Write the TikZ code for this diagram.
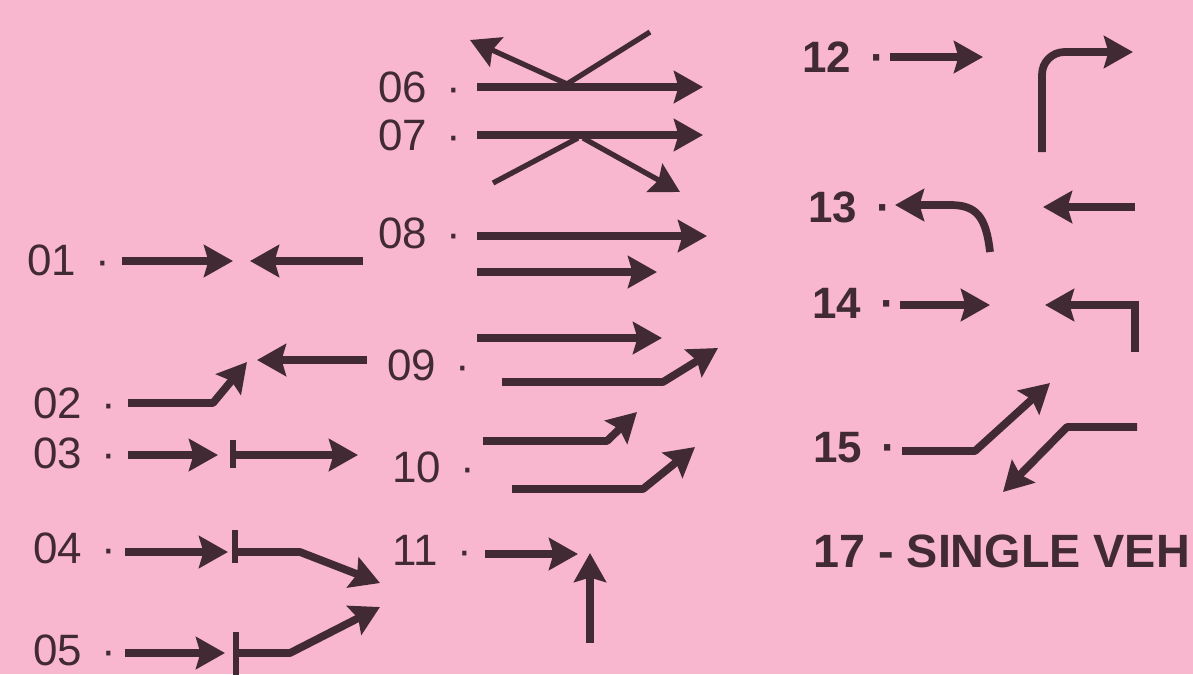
\documentclass[tikz,border=0pt]{standalone}
\usepackage{fontspec}
\setmainfont{Liberation Sans}
\usetikzlibrary{arrows.meta}
\definecolor{bgpink}{RGB}{248,183,206}
\definecolor{ink}{RGB}{66,42,52}
\tikzset{
  arr/.style={draw=ink,line width=4.4pt,line join=round,-{Stealth[length=0.58cm,width=0.64cm,inset=0.09cm]}},
  thinarr/.style={arr,line width=3pt},
  thinline/.style={draw=ink,line width=3pt},
  bar/.style={draw=ink,line width=3.2pt},
  lbl/.style={anchor=base west,inner sep=0pt,text=ink,font=\fontsize{25}{30}\selectfont},
  blbl/.style={lbl,font=\fontsize{25}{30}\selectfont\bfseries}
}

\begin{document}
\begin{tikzpicture}[x=0.02cm,y=-0.02cm]
\useasboundingbox (0,0) rectangle (1193,674);
\fill[bgpink] (0,0) rectangle (1193,674);
% left column
\node[lbl] (l01) at (27,275) {01\hspace{11pt}·};
\draw[arr] (122,261) -- (233,261);
\draw[arr] (363,261) -- (250,261);
\node[lbl] (l02) at (33,418) {02\hspace{11pt}·};
\draw[arr] (128,403) -- (213,403) -- (247,362);
\draw[arr] (367,360) -- (257,360);
\node[lbl] (l03) at (33,468) {03\hspace{11pt}·};
\draw[arr] (128,455) -- (218,455);
\draw[bar] (233,440) -- (233,468);
\draw[arr] (233,455) -- (358,455);
\node[lbl] (l04) at (33,563) {04\hspace{11pt}·};
\draw[arr] (125,552) -- (228,552);
\draw[bar] (235,530) -- (235,563);
\draw[arr] (235,552) -- (300,552) -- (380,583);
\node[lbl] (l05) at (33,665) {05\hspace{11pt}·};
\draw[arr] (125,653) -- (225,653);
\draw[bar] (236,632) -- (236,680);
\draw[arr] (236,653) -- (290,653) -- (380,607);
% middle column
\node[lbl] (l06) at (378,102) {06\hspace{11pt}·};
\draw[arr] (477,87) -- (703,87);
\draw[thinline] (650,32) -- (567,84);
\draw[thinarr] (567,84) -- (470,40);
\node[lbl] (l07) at (378,150) {07\hspace{11pt}·};
\draw[arr] (477,135) -- (703,135);
\draw[thinline] (493,183) -- (578,138);
\draw[thinarr] (583,138) -- (680,192);
\node[lbl] (l08) at (378,248) {08\hspace{11pt}·};
\draw[arr] (477,236) -- (707,236);
\draw[arr] (477,272) -- (657,272);
\node[lbl] (l09) at (387,380) {09\hspace{11pt}·};
\draw[arr] (477,338) -- (662,338);
\draw[arr] (502,382) -- (663,382) -- (718,348);
\node[lbl] (l10) at (392,482) {10\hspace{11pt}·};
\draw[arr] (483,441) -- (607,441) -- (637,412);
\draw[arr] (512,489) -- (643,489) -- (695,447);
\node[lbl] (l11) at (392,565) {11\hspace{11pt}·};
\draw[arr] (485,554) -- (578,554);
\draw[arr] (590,643) -- (590,553);
% right column
\node[blbl] (l12) at (802,72) {12\hspace{11pt}·};
\draw[arr] (890,57) -- (983,57);
\draw[arr,rounded corners=0.45cm] (1042,152) -- (1042,52) -- (1133,52);
\node[blbl] (l13) at (808,222) {13\hspace{11pt}·};
\draw[arr] (990,252) .. controls (986,216) and (976,205) .. (950,205) -- (895,205);
\draw[arr] (1135,207) -- (1043,207);
\node[blbl] (l14) at (812,318) {14\hspace{11pt}·};
\draw[arr] (900,305) -- (990,305);
\draw[arr,line join=miter] (1135,352) -- (1135,305) -- (1045,305);
\node[blbl] (l15) at (813,462) {15\hspace{11pt}·};
\draw[arr] (902,451) -- (975,451) -- (1050,383);
\draw[arr] (1137,427) -- (1067,427) -- (1003,492);
\node[blbl,font=\fontsize{26.6}{30}\selectfont\bfseries] (l17) at (813,567) {17 - SINGLE VEH};
\end{tikzpicture}
\end{document}
